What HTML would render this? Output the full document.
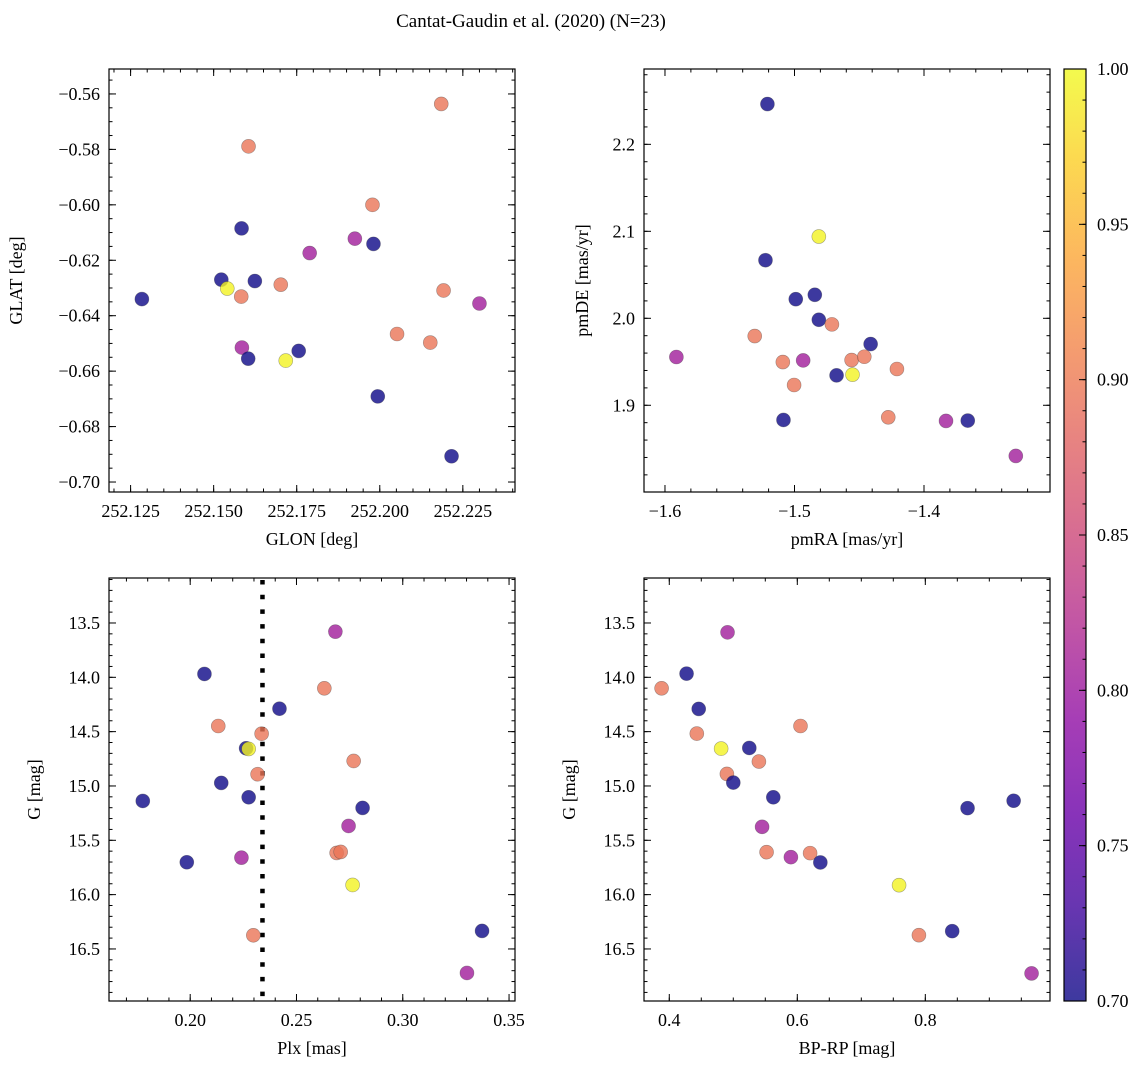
<!DOCTYPE html>
<html><head><meta charset="utf-8">
<style>
html,body{margin:0;padding:0;background:#fff;}
svg, svg text{font-family:"Liberation Serif","DejaVu Serif",serif;}
</style></head>
<body>
<svg id="fig" width="1148" height="1068" viewBox="0 0 1148 1068" xmlns="http://www.w3.org/2000/svg" font-family="Liberation Serif, DejaVu Serif, serif">
<text x="531" y="27" font-size="19" text-anchor="middle">Cantat-Gaudin et al. (2020) (N=23)</text>
</svg>
<script>
// ---- Panel 1: GLON vs GLAT
const p1Lon = [252.1284,252.1523,252.1541,252.1584,252.1583,252.1605,252.1624,252.1585,252.1604,252.1717,252.1756,252.1702,252.1789,252.1925,252.1978,252.1981,252.1994,252.2052,252.2152,252.2185,252.2192,252.2216,252.2300];
const p1Lat = [-0.6340,-0.6270,-0.6302,-0.6085,-0.6331,-0.5789,-0.6275,-0.6515,-0.6555,-0.6562,-0.6527,-0.6288,-0.6174,-0.6122,-0.6000,-0.6141,-0.6691,-0.6466,-0.6497,-0.5636,-0.6309,-0.6907,-0.6356];
const p1Prob = [0.70,0.70,0.995,0.70,0.895,0.895,0.70,0.805,0.70,0.995,0.70,0.895,0.805,0.805,0.895,0.70,0.70,0.895,0.895,0.895,0.895,0.70,0.805];
const p1XTicks = ["252.125","252.150","252.175","252.200","252.225"];
const p1YTicks = ["\u22120.56","\u22120.58","\u22120.60","\u22120.62","\u22120.64","\u22120.66","\u22120.68","\u22120.70"];
// ---- Panel 2: pmRA vs pmDE
const p2PmRA = [-1.5209,-1.4812,-1.5224,-1.4990,-1.4843,-1.4812,-1.4711,-1.5307,-1.4412,-1.5912,-1.5090,-1.4933,-1.4559,-1.4461,-1.4209,-1.4675,-1.4552,-1.5003,-1.5085,-1.4276,-1.3830,-1.3662,-1.3291];
const p2PmDE = [2.2463,2.0940,2.0668,2.0220,2.0270,1.9983,1.9930,1.9796,1.9704,1.9555,1.9497,1.9516,1.9520,1.9558,1.9417,1.9344,1.9352,1.9233,1.8831,1.8862,1.8820,1.8824,1.8418];
const p2Prob = [0.70,0.995,0.70,0.70,0.70,0.70,0.895,0.895,0.70,0.805,0.895,0.805,0.895,0.895,0.895,0.70,0.995,0.895,0.70,0.895,0.805,0.70,0.805];
const p2XTicks = ["\u22121.6","\u22121.5","\u22121.4"];
const p2YTicks = ["2.2","2.1","2.0","1.9"];
// ---- Panel 3: Plx vs G
const p3Plx = [0.2683,0.2067,0.2631,0.2420,0.2132,0.2336,0.2263,0.2275,0.2317,0.2146,0.1777,0.2275,0.1984,0.2241,0.2297,0.2769,0.2811,0.2745,0.2689,0.2708,0.2764,0.3373,0.3302];
const p3G = [13.580,13.969,14.101,14.289,14.448,14.519,14.653,14.659,14.892,14.972,15.138,15.104,15.702,15.660,16.374,14.770,15.202,15.368,15.616,15.607,15.911,16.334,16.721];
const p3Prob = [0.805,0.70,0.895,0.70,0.895,0.895,0.70,0.995,0.895,0.70,0.70,0.70,0.70,0.805,0.895,0.895,0.70,0.805,0.895,0.895,0.995,0.70,0.805];
const p3Mean = [0.234];
const p3XTicks = ["0.20","0.25","0.30","0.35"];
const gTicks = ["13.5","14.0","14.5","15.0","15.5","16.0","16.5"];
// ---- Panel 4: BP-RP vs G
const p4Color = [0.491,0.427,0.388,0.446,0.443,0.605,0.481,0.525,0.540,0.490,0.500,0.5625,0.545,0.552,0.590,0.620,0.636,0.759,0.790,0.842,0.866,0.938,0.966];
const p4G = [13.586,13.966,14.101,14.291,14.518,14.448,14.656,14.650,14.775,14.889,14.969,15.104,15.376,15.609,15.655,15.618,15.704,15.913,16.373,16.336,15.204,15.136,16.725];
const p4Prob = [0.805,0.70,0.895,0.70,0.895,0.895,0.995,0.70,0.895,0.895,0.70,0.70,0.805,0.895,0.805,0.895,0.70,0.995,0.895,0.70,0.70,0.70,0.805];
const p4XTicks = ["0.4","0.6","0.8"];
// ---- colorbar
const cbTicks = ["0.70","0.75","0.80","0.85","0.90","0.95","1.00"];

const NS="http://www.w3.org/2000/svg";
const svg=document.getElementById('fig');
const FS=18;
function mk(tag,attrs,parent){const e=document.createElementNS(NS,tag);for(const k in attrs)e.setAttribute(k,attrs[k]);(parent||svg).appendChild(e);return e;}

const stops=[[13,8,135],[65,4,157],[106,0,168],[143,13,164],[177,42,144],[204,71,120],[225,100,98],[242,132,75],[252,166,54],[252,206,37],[240,249,33]];
function plasma(t){t=Math.max(0,Math.min(1,t));const f=t*10,i=Math.min(9,Math.floor(f)),r=f-i;const a=stops[i],b=stops[i+1];
 const c=[0,1,2].map(k=>Math.round(a[k]+(b[k]-a[k])*r));return `rgb(${c[0]},${c[1]},${c[2]})`;}
function cval(v){return plasma((v-0.7)/0.3);}

function makeAxis(o){
  const g=mk('g',{});
  
  
  const sx=v=>o.L+(v-o.x0)/(o.x1-o.x0)*(o.R-o.L);
  const sy=o.yinv? v=>o.T+(v-o.y0)/(o.y1-o.y0)*(o.B-o.T) : v=>o.B-(v-o.y0)/(o.y1-o.y0)*(o.B-o.T);
  const tg=mk('g',{stroke:'#000','stroke-width':1},g);
  function ticks(start,step,lo,hi,fn){const n=Math.round((hi-lo)/step)+2;for(let i=-n;i<=n;i++){const v=start+i*step;if(v<lo-1e-9||v>hi+1e-9)continue;fn(v);}}
  const xl=Math.min(o.x0,o.x1),xh=Math.max(o.x0,o.x1),yl=Math.min(o.y0,o.y1),yh=Math.max(o.y0,o.y1);
  ticks(o.xMajor0,o.xMinor,xl,xh,v=>{const x=sx(v);mk('line',{x1:x,x2:x,y1:o.B,y2:o.B-3.5},tg);mk('line',{x1:x,x2:x,y1:o.T,y2:o.T+3.5},tg);});
  ticks(o.yMajor0,o.yMinor,yl,yh,v=>{const y=sy(v);mk('line',{x1:o.L,x2:o.L+3.5,y1:y,y2:y},tg);mk('line',{x1:o.R,x2:o.R-3.5,y1:y,y2:y},tg);});
  o.xLabels.forEach((lab,i)=>{const v=o.xMajor0+i*o.xMajor;const x=sx(v);
    mk('line',{x1:x,x2:x,y1:o.B,y2:o.B-7},tg);mk('line',{x1:x,x2:x,y1:o.T,y2:o.T+7},tg);
    const t=mk('text',{x:x,y:o.B+25,'font-size':FS,'text-anchor':'middle'},g);t.textContent=lab;
    
    });
  o.yLabels.forEach((lab,i)=>{const v=o.yMajor0+i*o.yMajor;const y=sy(v);
    mk('line',{x1:o.L,x2:o.L+7,y1:y,y2:y},tg);mk('line',{x1:o.R,x2:o.R-7,y1:y,y2:y},tg);
    const t=mk('text',{x:o.L-9,y:y+6,'font-size':FS,'text-anchor':'end'},g);t.textContent=lab;
    
    });
  const xt=mk('text',{x:(o.L+o.R)/2,y:o.B+53,'font-size':FS,'text-anchor':'middle'},g);xt.textContent=o.xTitle;
  
  
  const yx=o.yTitleX,yy=(o.T+o.B)/2;
  const yt=mk('text',{x:yx,y:yy,'font-size':FS,'text-anchor':'middle',transform:`rotate(-90 ${yx} ${yy})`},g);yt.textContent=o.yTitle;
  
  
  if(o.vline!==undefined){const x=sx(o.vline);const l=mk('line',{x1:x,x2:x,y1:o.T+2,y2:o.B,stroke:'#000','stroke-width':4.5,'stroke-dasharray':'4.5 10.2'},g);
    
    }
  o.xs.forEach((xv,i)=>{const c=mk('circle',{cx:sx(xv),cy:sy(o.ys[i]),r:7,fill:cval(o.cs[i]),'fill-opacity':0.8,stroke:'rgba(60,60,60,0.45)','stroke-width':0.6},g);
    
    });
  const fr=mk('rect',{x:o.L,y:o.T,width:o.R-o.L,height:o.B-o.T,fill:'none',stroke:'#000','stroke-width':1.2},g);
  
  
}

makeAxis({name:'glon-glat-panel',L:109,R:515,T:69,B:492,x0:252.1185,x1:252.2407,y0:-0.551,y1:-0.7036,yinv:true,
 xMajor0:252.125,xMajor:0.025,xMinor:0.005,yMajor0:-0.56,yMajor:-0.02,yMinor:0.005,
 xLabels:p1XTicks,yLabels:p1YTicks,xTitle:'GLON [deg]',yTitle:'GLAT [deg]',yTitleX:22,xs:p1Lon,ys:p1Lat,cs:p1Prob});
makeAxis({name:'pm-panel',L:644,R:1050,T:69,B:492,x0:-1.6162,x1:-1.3027,y0:1.8003,y1:2.2866,
 xMajor0:-1.6,xMajor:0.1,xMinor:0.02,yMajor0:2.2,yMajor:-0.1,yMinor:0.02,
 xLabels:p2XTicks,yLabels:p2YTicks,xTitle:'pmRA [mas/yr]',yTitle:'pmDE [mas/yr]',yTitleX:588,xs:p2PmRA,ys:p2PmDE,cs:p2Prob});
makeAxis({name:'plx-g-panel',L:109,R:515,T:578,B:1001,x0:0.1618,x1:0.3528,y0:13.086,y1:16.979,yinv:true,
 xMajor0:0.20,xMajor:0.05,xMinor:0.01,yMajor0:13.5,yMajor:0.5,yMinor:0.1,
 xLabels:p3XTicks,yLabels:gTicks,xTitle:'Plx [mas]',yTitle:'G [mag]',yTitleX:40,xs:p3Plx,ys:p3G,cs:p3Prob,vline:p3Mean[0]});
makeAxis({name:'cmd-panel',L:644,R:1050,T:578,B:1001,x0:0.3605,x1:0.9948,y0:13.086,y1:16.979,yinv:true,
 xMajor0:0.4,xMajor:0.2,xMinor:0.05,yMajor0:13.5,yMajor:0.5,yMinor:0.1,
 xLabels:p4XTicks,yLabels:gTicks,xTitle:'BP-RP [mag]',yTitle:'G [mag]',yTitleX:575,xs:p4Color,ys:p4G,cs:p4Prob});

(function(){
  const L=1064,R=1086,T=69,B=1001;
  const g=mk('g',{});
  
  
  const defs=mk('defs',{},g);
  const lg=mk('linearGradient',{id:'cbg',x1:0,y1:1,x2:0,y2:0},defs);
  for(let i=0;i<=20;i++){mk('stop',{offset:i/20,'stop-color':plasma(i/20),'stop-opacity':0.8},lg);}
  mk('rect',{x:L,y:T,width:R-L,height:B-T,fill:'url(#cbg)'},g);
  const sy=v=>B-(v-0.7)/0.3*(B-T);
  for(let i=0;i<=30;i++){const y=sy(0.7+i*0.01);mk('line',{x1:R,x2:R-3.5,y1:y,y2:y,stroke:'#000'},g);}
  cbTicks.forEach(lab=>{const y=sy(parseFloat(lab));mk('line',{x1:R,x2:R-7,y1:y,y2:y,stroke:'#000'},g);
    const t=mk('text',{x:R+11,y:y+6,'font-size':FS},g);t.textContent=lab;
    
    });
  mk('rect',{x:L,y:T,width:R-L,height:B-T,fill:'none',stroke:'#000','stroke-width':1.2},g);
})();
</script>
</body></html>
